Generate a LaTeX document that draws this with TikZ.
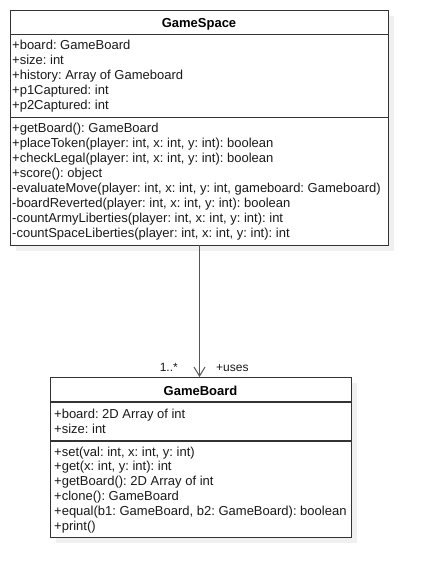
\documentclass[tikz,border=0pt]{standalone}
\usepackage{fontspec}
\setmainfont{Liberation Sans}
\usetikzlibrary{arrows.meta}
\frenchspacing
\definecolor{boxline}{HTML}{333333}
\definecolor{shadowc}{HTML}{F0F0F0}
\definecolor{arrowc}{HTML}{555555}
\definecolor{txtc}{HTML}{1A1A1A}
\tikzset{
  txt/.style={anchor=base west, inner sep=0pt, text=txtc, font=\fontsize{13bp}{15bp}\selectfont\frenchspacing},
  ttl/.style={anchor=base, inner sep=0pt, text=black, font=\fontsize{13bp}{15bp}\selectfont\bfseries},
  lbl/.style={inner sep=0pt, text=txtc, font=\fontsize{12bp}{14bp}\selectfont},
  boxframe/.style={draw=boxline, line width=1.2bp, fill=white, inner sep=0pt},
  shadowbox/.style={fill=shadowc, draw=none},
  divider/.style={draw=boxline, line width=1.2bp},
  assoc/.style={draw=arrowc, line width=1bp, -{Straight Barb[length=9bp,width=11bp]}}
}
\begin{document}
\begin{tikzpicture}[x=1bp,y=-1bp]
\useasboundingbox[fill=white] (0,0) rectangle (427,578);
% ---------- GameSpace ----------
\fill[shadowbox] (16,16) rectangle (394,251);
\node[boxframe, anchor=north west, minimum width=378bp, minimum height=235bp] (gs) at (10,10) {};
\coordinate (gsd1l) at (10,34.5); \coordinate (gsd1r) at (388,34.5);
\coordinate (gsd2l) at (10,117.5); \coordinate (gsd2r) at (388,117.5);
\draw[divider] (gsd1l) -- (gsd1r);
\draw[divider] (gsd2l) -- (gsd2r);
\node[ttl] (gstitle) at (199,27.3) {GameSpace};
\foreach [count=\i] \t in {{+board: GameBoard},{+size: int},{+history: Array of Gameboard},{+p1Captured: int},{+p2Captured: int}}
  \node[txt] (gsa\i) at (12,{50+15*(\i-1)}) {\t};
\foreach [count=\i] \t in {{+getBoard(): GameBoard},
  {+placeToken(player: int, x: int, y: int): boolean},
  {+checkLegal(player: int, x: int, y: int): boolean},
  {+score(): object},
  {-evaluateMove(player: int, x: int, y: int, gameboard: Gameboard)},
  {-boardReverted(player: int, x: int, y: int): boolean},
  {-countArmyLiberties(player: int, x: int, y: int): int},
  {-countSpaceLiberties(player: int, x: int, y: int): int}}
  \node[txt] (gsm\i) at (12,{132.5+15*(\i-1)}) {\t};
% ---------- GameBoard ----------
\fill[shadowbox] (56,383) rectangle (357,543);
\node[boxframe, anchor=north west, minimum width=301bp, minimum height=160bp] (gb) at (50,377) {};
\coordinate (gbd1l) at (50,402); \coordinate (gbd1r) at (351,402);
\coordinate (gbd2l) at (50,441); \coordinate (gbd2r) at (351,441);
\draw[divider] (gbd1l) -- (gbd1r);
\draw[divider] (gbd2l) -- (gbd2r);
\node[ttl] (gbtitle) at (200.5,395.3) {GameBoard};
\foreach [count=\i] \t in {{+board: 2D Array of int},{+size: int}}
  \node[txt] (gba\i) at (54,{418+15*(\i-1)}) {\t};
\foreach [count=\i] \t in {{+set(val: int, x: int, y: int)},
  {+get(x: int, y: int): int},
  {+getBoard(): 2D Array of int},
  {+clone(): GameBoard},
  {+equal(b1: GameBoard, b2: GameBoard): boolean},
  {+print()}}
  \node[txt] (gbm\i) at (54,{456+14.8*(\i-1)}) {\t};
% ---------- association ----------
\coordinate (gsbot) at (199.5,245);
\coordinate (gbtop) at (199.5,377);
\draw[assoc] (gsbot) -- (gbtop);
\node[lbl, anchor=base east] (mult) at (178,371.5) {1..*};
\node[lbl, anchor=base west] (role) at (216,371.5) {+uses};
\end{tikzpicture}
\end{document}
